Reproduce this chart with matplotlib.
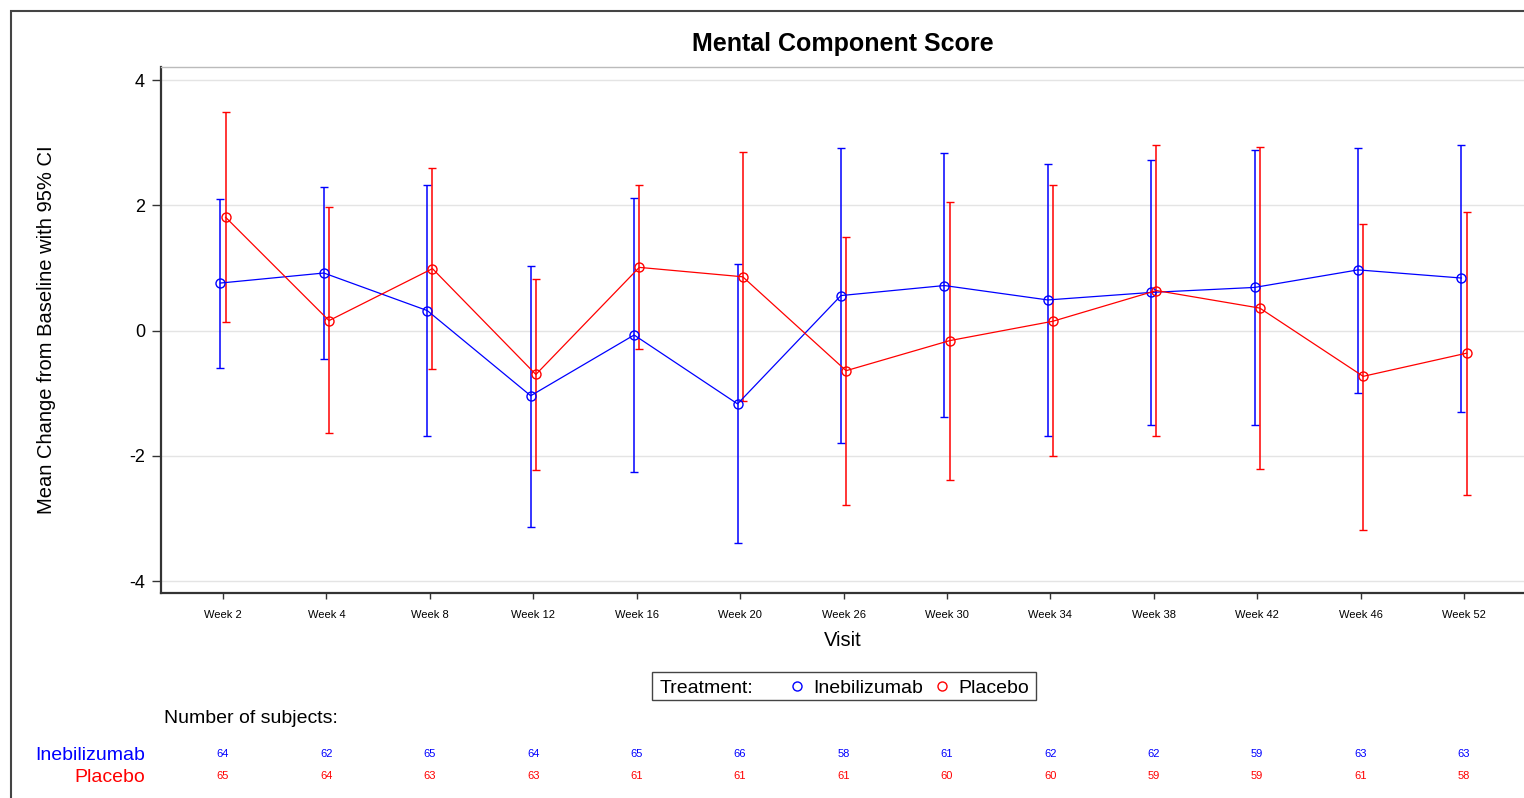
import matplotlib
matplotlib.use("Agg")
import matplotlib.pyplot as plt
import matplotlib.transforms as mtransforms
from matplotlib.lines import Line2D
from matplotlib.patches import Rectangle
import numpy as np

plt.rcParams['font.family'] = ['Liberation Sans', 'DejaVu Sans']
plt.rcParams['axes.unicode_minus'] = False

# data
visits = ["Week 2", "Week 4", "Week 8", "Week 12", "Week 16", "Week 20", "Week 26",
          "Week 30", "Week 34", "Week 38", "Week 42", "Week 46", "Week 52"]

inebi_mean = [0.76, 0.92, 0.32, -1.04, -0.07, -1.17, 0.56, 0.72, 0.49, 0.61, 0.69, 0.97, 0.84]
inebi_lower = [-0.59, -0.45, -1.69, -3.13, -2.26, -3.39, -1.80, -1.38, -1.69, -1.50, -1.51, -0.99, -1.30]
inebi_upper = [2.10, 2.29, 2.32, 1.04, 2.12, 1.07, 2.92, 2.83, 2.66, 2.72, 2.89, 2.92, 2.97]

placebo_mean = [1.81, 0.16, 0.99, -0.70, 1.01, 0.86, -0.64, -0.16, 0.15, 0.64, 0.36, -0.73, -0.36]
placebo_lower = [0.13, -1.64, -0.62, -2.22, -0.30, -1.13, -2.78, -2.38, -2.01, -1.69, -2.21, -3.18, -2.62]
placebo_upper = [3.49, 1.97, 2.60, 0.83, 2.33, 2.85, 1.50, 2.06, 2.33, 2.97, 2.93, 1.71, 1.89]

inebi_n = [64, 62, 65, 64, 65, 66, 58, 61, 62, 62, 59, 63, 63]
placebo_n = [65, 64, 63, 63, 61, 61, 61, 60, 60, 59, 59, 61, 58]

W, H = 1524, 798
fig = plt.figure(figsize=(W / 100, H / 100), dpi=100)

# axes box in pixels: left 161, top 67, bottom 593, runs to right edge
ax = fig.add_axes([161 / W, 1 - 593 / H, 1 - 161 / W, (593 - 67) / H])

x = np.arange(len(visits))
off = 0.025


def draw(xs, mean, lo, hi, col):
    mean = np.array(mean)
    err = [mean - np.array(lo), np.array(hi) - mean]
    ax.errorbar(xs, mean, yerr=err, color=col, marker='o', mfc='none', mec=col,
                ms=6.5, mew=1, lw=0.9, elinewidth=1.1, capsize=3, capthick=1.1, zorder=3)


draw(x - off, inebi_mean, inebi_lower, inebi_upper, 'blue')
draw(x + off, placebo_mean, placebo_lower, placebo_upper, 'red')

ax.set_xlim(-0.6, 12.58)
ax.set_ylim(-4.19, 4.21)
ax.set_xticks(x)
ax.set_xticklabels(visits)
ax.set_yticks([-4, -2, 0, 2, 4])
ax.yaxis.grid(True, color='#e4e4e4', lw=1)
ax.set_axisbelow(True)

ax.spines['right'].set_visible(False)
ax.spines['top'].set_color('#bbbbbb')
ax.spines['top'].set_linewidth(1)
for s in ('left', 'bottom'):
    ax.spines[s].set_color('#333333')
    ax.spines[s].set_linewidth(1.6)

ax.tick_params(axis='y', length=6.5, width=1, labelsize=13, pad=5, color='#333333')
ax.tick_params(axis='x', length=4.5, width=1, labelsize=8, pad=7.5, color='#333333')

ax.set_title("Mental Component Score", fontsize=18, fontweight='bold', pad=11.5)
ax.set_ylabel("Mean Change from Baseline with 95% CI", fontsize=14.5, va='center')
ax.yaxis.set_label_coords((47 - 161) / (W - 161), 0.5)
ax.set_xlabel("Visit", fontsize=14.5, va='center')
ax.xaxis.set_label_coords(0.5, -(641 - 593) / (593 - 67))

# legend box
fig.patches.append(Rectangle((652 / W, 1 - 700 / H), (1036 - 652) / W, 28 / H,
                             transform=fig.transFigure, fill=False, ec='#444444', lw=1))
ly = 1 - 686 / H
ty = 1 - 688.5 / H
fig.text(660 / W, ty, "Treatment:", ha='left', va='center', fontsize=14)
fig.add_artist(Line2D([797 / W], [ly], marker='o', mfc='none', mec='blue', ms=6.5,
                      mew=1, transform=fig.transFigure))
fig.text(813 / W, ty, "Inebilizumab", ha='left', va='center', fontsize=14)
fig.add_artist(Line2D([942 / W], [ly], marker='o', mfc='none', mec='red', ms=6.5,
                      mew=1, transform=fig.transFigure))
fig.text(958 / W, ty, "Placebo", ha='left', va='center', fontsize=14)

# number of subjects table
fig.text(164 / W, 1 - 718.5 / H, "Number of subjects:", ha='left', va='center', fontsize=14)
fig.text(145 / W, 1 - 755 / H, "Inebilizumab", ha='right', va='center', fontsize=14, color='blue')
fig.text(145 / W, 1 - 777 / H, "Placebo", ha='right', va='center', fontsize=14, color='red')
trans = mtransforms.blended_transform_factory(ax.transData, fig.transFigure)
for i in range(len(visits)):
    ax.text(i, 1 - 754 / H, str(inebi_n[i]), transform=trans, ha='center', va='center',
            fontsize=8, color='blue', clip_on=False)
    ax.text(i, 1 - 776 / H, str(placebo_n[i]), transform=trans, ha='center', va='center',
            fontsize=8, color='red', clip_on=False)

# outer frame
fig.patches.append(Rectangle((10.5 / W, -0.05), 1.0, 1 - 10.5 / H + 0.05,
                             transform=fig.transFigure, fill=False, ec='#444444', lw=1.5))

fig.savefig("out.png", dpi=100)
